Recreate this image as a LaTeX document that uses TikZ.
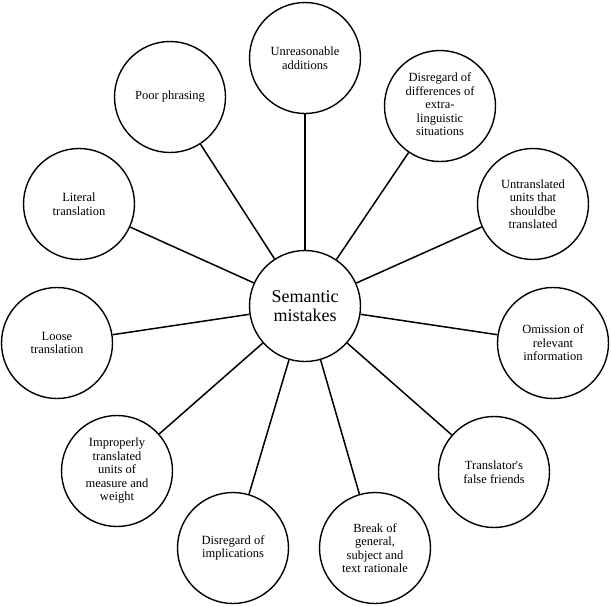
\documentclass[tikz,border=0pt]{standalone}
\usepackage{fontspec}
\setmainfont{Liberation Serif}[Ligatures=TeXOff]
\begin{document}
\begin{tikzpicture}[x=1pt,y=-1pt,
  item/.style={draw=black, line width=1.4pt, circle, minimum size=111pt, inner sep=0pt, align=center, font=\fontsize{12.5}{13.5}\selectfont},
  hub/.style={draw=black, line width=1.4pt, circle, minimum size=111pt, inner sep=0pt, align=center, font=\fontsize{18}{19}\selectfont},
  link/.style={line width=1.5pt}]
\useasboundingbox (0,0) rectangle (611,606);
\node[hub] (c) at (305,306) {Semantic\\mistakes};
\node[item] (ua) at (305,58) {Unreasonable\\additions};
\node[item] (dd) at (440,106) {\raisebox{8pt}{\begin{tabular}{@{}c@{}}Disregard of\\differences of\\extra-\\linguistic\\situations\end{tabular}}};
\node[item] (ut) at (533,204) {Untranslated\\units that\\shouldbe\\translated};
\node[item] (om) at (553,343) {Omission of\\relevant\\information};
\node[item] (tf) at (494,472) {Translator's\\false friends};
\node[item] (br) at (375,548) {Break of\\general,\\subject and\\text rationale};
\node[item] (di) at (233,548) {Disregard of\\implications};
\node[item] (im) at (117,471) {Improperly\\translated\\units of\\measure and\\weight};
\node[item] (lo) at (57,343) {Loose\\translation};
\node[item] (li) at (79,204) {Literal\\translation};
\node[item] (pp) at (170,97) {Poor phrasing};
\foreach \n in {ua,dd,ut,om,tf,br,di,im,lo,li,pp}
  \draw[link] (c) -- (\n);
\end{tikzpicture}
\end{document}
